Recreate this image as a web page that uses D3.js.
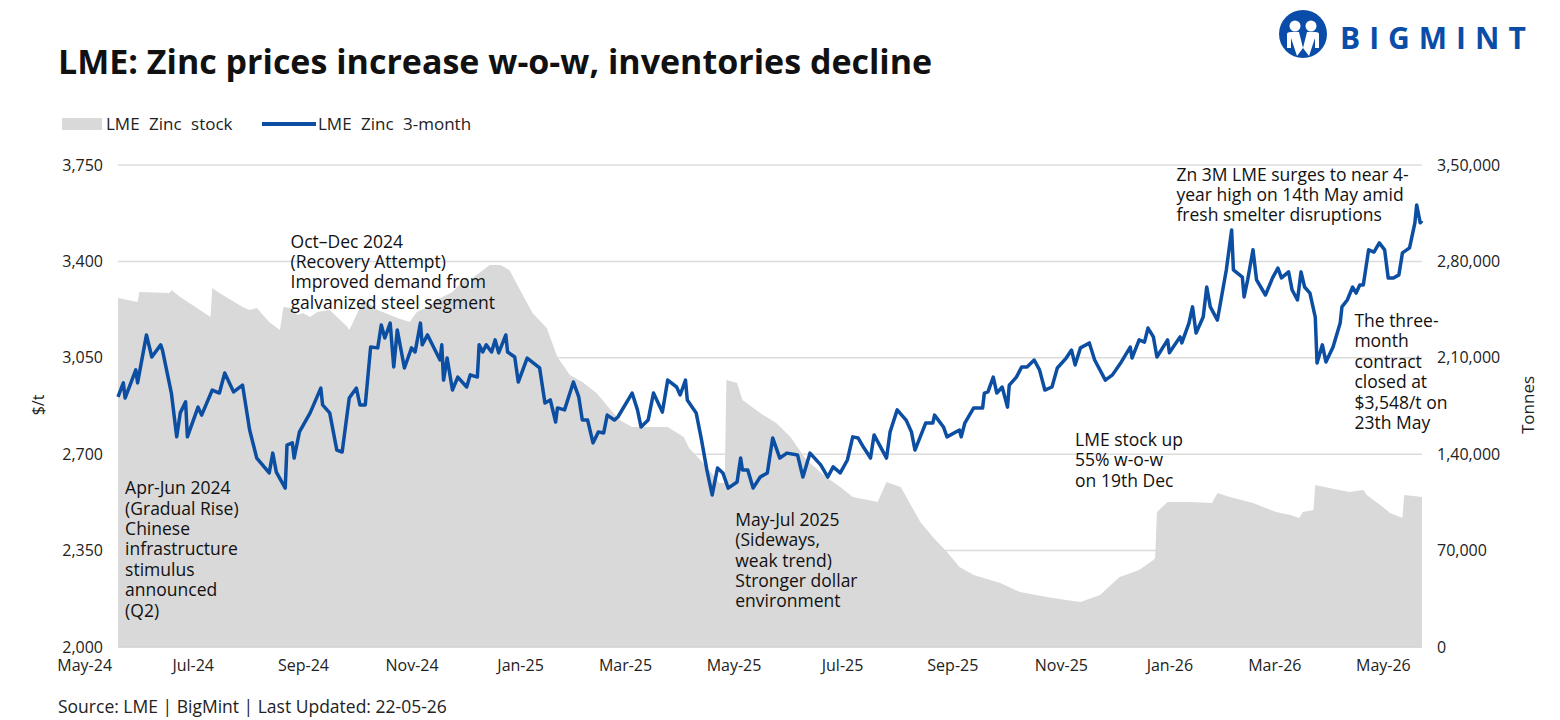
<!DOCTYPE html>
<html><head><meta charset="utf-8">
<script src="https://cdn.jsdelivr.net/npm/d3@7"></script>
<style>body{margin:0;background:#fff}svg{font-family:"Open Sans",Arial,sans-serif}</style>
</head><body><svg id="c" width="1560" height="720"></svg>
<script>
const startDate = "2024-05-20";
const priceDays = [0,3,4,10,11,16,19,24,25,30,33,35,38,39,45,47,53,57,60,65,70,74,78,85,87,89,94,95,98,99,102,108,114,115,119,123,126,130,134,136,139,142,146,148,150,153,155,157,161,165,167,170,171,174,181,182,183,185,188,191,196,198,202,203,205,207,210,212,214,218,219,223,225,230,237,240,243,246,247,251,256,259,261,264,267,270,273,275,279,281,289,292,294,298,301,306,309,314,316,319,320,325,328,331,334,337,340,343,348,350,351,354,357,361,365,368,372,376,382,385,389,395,399,402,406,410,413,416,419,423,425,432,434,438,443,446,448,454,458,459,464,466,473,474,476,481,486,487,489,492,494,497,500,501,505,508,511,515,518,521,525,528,533,536,538,541,546,549,555,559,564,569,570,574,577,579,582,584,590,591,597,598,602,604,606,610,612,614,618,623,626,627,632,633,635,638,640,645,649,652,654,658,660,663,665,667,670,673,674,677,679,683,687,688,691,694,696,698,700,703,706,709,712,714,717,720,722,726,729,730,732,733];
const priceValues = [2908,2959,2904,3006,2959,3133,3053,3097,3078,2922,2763,2850,2890,2763,2871,2842,2933,2922,2995,2926,2951,2788,2686,2632,2704,2635,2577,2733,2741,2686,2781,2850,2940,2879,2850,2715,2708,2904,2940,2879,2879,3089,3086,3169,3122,3176,3017,3151,3013,3086,3071,3176,3097,3133,3042,3097,2969,3049,2933,2980,2944,2988,2980,3097,3071,3097,3071,3115,3068,3133,3071,3053,2962,3049,3013,2886,2897,2817,2868,2861,2962,2908,2824,2824,2741,2781,2777,2842,2824,2835,2922,2861,2799,2824,2922,2853,2969,2944,2915,2969,2897,2850,2752,2643,2552,2650,2632,2577,2599,2686,2643,2643,2577,2617,2632,2759,2686,2704,2697,2617,2704,2661,2617,2654,2632,2679,2763,2759,2726,2686,2770,2686,2781,2861,2824,2781,2715,2813,2813,2842,2799,2763,2788,2763,2813,2868,2868,2922,2926,2980,2922,2944,2871,2951,2980,3017,3017,3042,3006,2933,2944,3013,3049,3078,3024,3086,3104,3042,2969,2988,3035,3089,3049,3115,3107,3158,3126,3053,3115,3068,3126,3104,3176,3235,3140,3198,3307,3235,3187,3369,3514,3369,3343,3271,3333,3442,3333,3278,3340,3376,3340,3362,3296,3260,3362,3307,3285,3198,3031,3097,3035,3089,3176,3235,3260,3307,3285,3314,3314,3442,3434,3467,3442,3340,3340,3351,3431,3449,3540,3605,3540,3548];
const stockDays = [0,11,12,29,30,35,52,53,57,70,74,78,85,91,93,97,101,104,108,112,119,129,130,138,146,157,164,168,174,179,188,196,198,200,209,215,220,226,233,241,247,254,261,269,277,282,289,309,318,321,331,338,341,342,348,351,361,370,378,387,398,406,413,427,432,440,445,451,458,466,473,481,496,507,522,533,541,552,563,574,582,583,584,590,603,615,618,625,638,651,659,664,666,672,673,681,692,700,702,711,715,722,723,733];
const stockValues = [253400,250500,257800,257000,259200,254100,239600,260700,257000,246900,244700,246100,236000,230200,246900,246100,241100,242500,239600,243200,244700,232400,230200,252000,244700,238900,236000,243200,246900,252000,257800,268700,259200,268700,277400,277400,273700,259200,242500,231600,210600,197500,192400,184400,172100,164800,159700,159700,152500,144500,130700,119100,119100,193900,191700,179300,169900,162600,152500,135800,123400,116200,108900,105300,119800,116200,104600,90800,79900,69000,58100,52300,46500,39900,36300,34100,32700,37800,50800,55900,63200,64600,98000,105300,105300,104600,111800,108900,104600,98000,95800,93700,98000,99500,117600,115400,112500,114000,110400,101700,97300,93700,110400,108900];
const priceTicks = [2000,2350,2700,3050,3400,3750];
const stockTicks = [0,70000,140000,210000,280000,350000];
const monthLabels = ["2024-05-01","2024-07-01","2024-09-01","2024-11-01","2025-01-01","2025-03-01","2025-05-01","2025-07-01","2025-09-01","2025-11-01","2026-01-01","2026-03-01","2026-05-01"];
const annotations = [
 {x:"2024-08-25", v:3450, lines:["Oct–Dec 2024","(Recovery Attempt)","Improved demand from","galvanized steel segment"]},
 {x:"2024-05-24", v:2555, lines:["Apr-Jun 2024","(Gradual Rise)","Chinese","infrastructure","stimulus","announced","(Q2)"]},
 {x:"2025-05-02", v:2440, lines:["May-Jul 2025","(Sideways,","weak trend)","Stronger dollar","environment"]},
 {x:"2025-11-09", v:2730, lines:["LME stock up","55% w-o-w","on 19th Dec"]},
 {x:"2026-01-05", v:3693, lines:["Zn 3M LME surges to near 4-","year high on 14th May amid","fresh smelter disruptions"]},
 {x:"2026-04-15", v:3162, lines:["The three-","month","contract","closed at","$3,548/t on","23th May"]}
];

const svg = d3.select("#c");
const base = d3.isoParse(startDate);
const day = d => d3.timeDay.offset(base, d);
const x = d3.scaleTime().domain([day(0), day(733)]).range([118, 1422]);
const yL = d3.scaleLinear().domain([2000,3750]).range([647,165]);
const yR = d3.scaleLinear().domain([0,350000]).range([647,165]);
const blue = "#0b4ea2";

svg.append("g").selectAll("line").data(priceTicks).join("line")
  .attr("x1",118).attr("x2",1422).attr("y1",d=>yL(d)).attr("y2",d=>yL(d))
  .attr("stroke","#dcdcdc").attr("stroke-width",1.5);

const stock = stockDays.map((d,i)=>({d:day(d),v:stockValues[i]}));
svg.append("path").datum(stock)
  .attr("d", d3.area().x(d=>x(d.d)).y0(yR(0)).y1(d=>yR(d.v)))
  .attr("fill","#d9d9d9");

const price = priceDays.map((d,i)=>({d:day(d),v:priceValues[i]}));
svg.append("path").datum(price)
  .attr("d", d3.line().x(d=>x(d.d)).y(d=>yL(d.v)))
  .attr("fill","none").attr("stroke",blue).attr("stroke-width",3.5).attr("stroke-linejoin","round");

const fmt = d3.format(",");
const aL = svg.append("g").attr("transform","translate(118,0)")
  .call(d3.axisLeft(yL).tickValues(priceTicks).tickFormat(fmt).tickSize(0).tickPadding(15));
const aR = svg.append("g").attr("transform","translate(1422,0)")
  .call(d3.axisRight(yR).tickValues(stockTicks).tickSize(0).tickPadding(15));
aR.selectAll("text").text(d=>d.toLocaleString("en-IN"));
const aX = svg.append("g").attr("transform","translate(0,647)")
  .call(d3.axisBottom(x).tickValues(monthLabels.map(d3.isoParse)).tickFormat(d3.timeFormat("%b-%y")).tickSize(0).tickPadding(13));
[aL,aR,aX].forEach(a=>{a.select(".domain").remove();a.selectAll("text").attr("font-size",16).attr("fill","#222").attr("font-family","Open Sans, Arial, sans-serif");});

svg.append("line").attr("x1",118).attr("x2",1422).attr("y1",647).attr("y2",647).attr("stroke","#d0d0d0");

svg.append("text").attr("transform","translate(44,405) rotate(-90)").attr("text-anchor","middle").attr("font-size",16).attr("fill","#222").text("$/t");
svg.append("text").attr("transform","translate(1534,405) rotate(-90)").attr("text-anchor","middle").attr("font-size",17).attr("fill","#222").text("Tonnes");

svg.append("text").attr("x",58).attr("y",74).attr("font-size",34).attr("font-weight","bold").attr("fill","#111").text("LME: Zinc prices increase w-o-w, inventories decline");

svg.append("rect").attr("x",62).attr("y",118).attr("width",40).attr("height",12).attr("fill","#d9d9d9");
svg.append("text").attr("x",106).attr("y",130).attr("font-size",17).attr("fill","#222").attr("word-spacing",5).text("LME Zinc stock");
svg.append("line").attr("x1",262).attr("x2",316).attr("y1",124).attr("y2",124).attr("stroke",blue).attr("stroke-width",4);
svg.append("text").attr("x",318).attr("y",130).attr("font-size",17).attr("fill","#222").attr("word-spacing",5).text("LME Zinc 3-month");

annotations.forEach(a=>{
  const t = svg.append("text").attr("x",x(d3.isoParse(a.x))).attr("y",yL(a.v)).attr("font-size",17.5).attr("fill","#111");
  a.lines.forEach((l,i)=>t.append("tspan").attr("x",x(d3.isoParse(a.x))).attr("dy",i?20.4:0).text(l));
});

svg.append("text").attr("x",58).attr("y",713).attr("font-size",17.5).attr("fill","#222").text("Source: LME | BigMint | Last Updated: 22-05-26");

const lg = svg.append("g").attr("transform","translate(1303,34)");
lg.append("circle").attr("r",24).attr("fill","#0a4da8");
lg.append("circle").attr("cx",-8).attr("cy",-8).attr("r",5.5).attr("fill","#fff");
lg.append("circle").attr("cx",8).attr("cy",-8).attr("r",5.5).attr("fill","#fff");
lg.append("path").attr("d","M-16,0 Q-16,-2 -12,-2 L-4,-2 L0,14 L4,-2 L12,-2 Q16,-2 16,0 L16,14 L12,14 L12,4 L6,22 L0,14 L-6,22 L-12,4 L-12,14 L-16,14 Z").attr("fill","#fff");
svg.append("text").attr("x",1340).attr("y",49).attr("font-size",30).attr("font-weight","bold").attr("letter-spacing",9).attr("fill","#0a4da8").text("BIGMINT");
</script></body></html>
